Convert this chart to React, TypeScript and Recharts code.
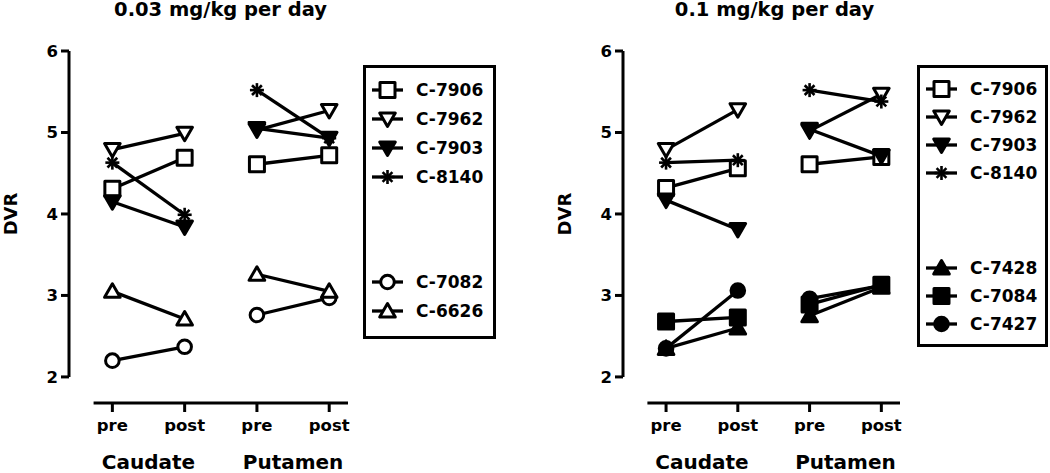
import React from 'react';
import { LineChart, Line, XAxis, YAxis, ReferenceLine, Legend } from 'recharts';

const FONT = '"DejaVu Sans", "Liberation Sans", sans-serif';

// shared axes
const PHASE_TICKS = ['pre', 'post', 'pre', 'post'];
const REGIONS = ['Caudate', 'Putamen'];
const Y_TICKS = [2, 3, 4, 5, 6];

// 0.03 mg/kg per day
const LOW_TITLE = '0.03 mg/kg per day';
const LOW_SUBJECTS = ['C-7906', 'C-7962', 'C-7903', 'C-8140', 'C-7082', 'C-6626'];
const LOW_CAUDATE_PRE = [4.31, 4.79, 4.15, 4.63, 2.2, 3.05];
const LOW_CAUDATE_POST = [4.69, 4.99, 3.84, 3.99, 2.37, 2.71];
const LOW_PUTAMEN_PRE = [4.61, 5.03, 5.05, 5.52, 2.76, 3.26];
const LOW_PUTAMEN_POST = [4.72, 5.27, 4.93, 4.93, 2.97, 3.05];

// 0.1 mg/kg per day
const HIGH_TITLE = '0.1 mg/kg per day';
const HIGH_SUBJECTS = ['C-7906', 'C-7962', 'C-7903', 'C-8140', 'C-7428', 'C-7084', 'C-7427'];
const HIGH_CAUDATE_PRE = [4.32, 4.79, 4.17, 4.63, 2.35, 2.68, 2.35];
const HIGH_CAUDATE_POST = [4.56, 5.28, 3.81, 4.66, 2.6, 2.73, 3.06];
const HIGH_PUTAMEN_PRE = [4.61, 5.02, 5.04, 5.52, 2.75, 2.89, 2.96];
const HIGH_PUTAMEN_POST = [4.7, 5.47, 4.71, 5.38, 3.1, 3.13, 3.12];

type Shape = 'square' | 'triDown' | 'triUp' | 'circle' | 'star';

const MARKERS: Record<string, { shape: Shape; filled: boolean }> = {
  'C-7906': { shape: 'square', filled: false },
  'C-7962': { shape: 'triDown', filled: false },
  'C-7903': { shape: 'triDown', filled: true },
  'C-8140': { shape: 'star', filled: true },
  'C-7082': { shape: 'circle', filled: false },
  'C-6626': { shape: 'triUp', filled: false },
  'C-7428': { shape: 'triUp', filled: true },
  'C-7084': { shape: 'square', filled: true },
  'C-7427': { shape: 'circle', filled: true },
};

const X_DOMAIN: [number, number] = [-0.6, 3.26];
const X_LINE_START = -0.26;
const Y_DOMAIN: [number, number] = [1.68, 6];
const LINE_W = 3.3;

function Marker({ cx, cy, shape, filled }: { cx: number; cy: number; shape: Shape; filled: boolean }) {
  const p = { stroke: '#000', strokeWidth: 3, fill: filled ? '#000' : '#fff', strokeLinejoin: 'round' as const };
  if (shape === 'square') return <rect x={cx - 7.5} y={cy - 7.5} width={15} height={15} {...p} />;
  if (shape === 'circle') return <circle cx={cx} cy={cy} r={6.8} {...p} />;
  if (shape === 'triDown')
    return <polygon points={`${cx - 7.8},${cy - 6} ${cx + 7.8},${cy - 6} ${cx},${cy + 7.5}`} {...p} />;
  if (shape === 'triUp')
    return <polygon points={`${cx - 7.8},${cy + 6} ${cx + 7.8},${cy + 6} ${cx},${cy - 7.5}`} {...p} />;
  const r = 7;
  const d = r * 0.7;
  return (
    <g stroke="#000" strokeWidth={2.6}>
      <line x1={cx} y1={cy - r} x2={cx} y2={cy + r} />
      <line x1={cx - r} y1={cy} x2={cx + r} y2={cy} />
      <line x1={cx - d} y1={cy - d} x2={cx + d} y2={cy + d} />
      <line x1={cx - d} y1={cy + d} x2={cx + d} y2={cy - d} />
    </g>
  );
}

function DvrLabel({ viewBox }: any) {
  const x = viewBox.x + viewBox.width - 59;
  const y = viewBox.y + 163;
  return (
    <text x={x} y={y} transform={`rotate(-90 ${x} ${y})`} textAnchor="middle" dominantBaseline="central"
      fontFamily={FONT} fontWeight="bold" fontSize={18} fill="#000">
      DVR
    </text>
  );
}

interface LegendLayout {
  gap: number;
  boxWidth: number;
  rowH: number;
  padTop: number;
  groupGap: number;
  padBottom: number;
}

function makeLegend(subjects: string[], lay: LegendLayout) {
  return () => (
    <div style={{
      marginLeft: lay.gap, marginTop: 14, width: lay.boxWidth, boxSizing: 'border-box',
      border: '3px solid #000', paddingTop: lay.padTop, paddingBottom: lay.padBottom, fontFamily: FONT,
    }}>
      {subjects.map((s, i) => (
        <div key={s} style={{ display: 'flex', alignItems: 'center', height: lay.rowH, marginTop: i === 4 ? lay.groupGap : 0 }}>
          <svg width={44} height={22} style={{ marginLeft: 6, flex: 'none' }}>
            <line x1={0} y1={11} x2={31} y2={11} stroke="#000" strokeWidth={LINE_W} />
            <Marker cx={15.5} cy={11} {...MARKERS[s]} />
          </svg>
          <span style={{ fontSize: 17, fontWeight: 'bold', color: '#000', whiteSpace: 'nowrap' }}>{s}</span>
        </div>
      ))}
    </div>
  );
}

interface PanelProps {
  title: string;
  subjects: string[];
  cPre: number[];
  cPost: number[];
  pPre: number[];
  pPost: number[];
  left: number;
  width: number;
  yAxisWidth: number;
  marginRight: number;
  legend: LegendLayout;
}

function Panel({ title, subjects, cPre, cPost, pPre, pPost, left, width, yAxisWidth, marginRight, legend }: PanelProps) {
  const tickStyle = { fill: '#000', fontSize: 16.5, fontWeight: 'bold', fontFamily: FONT };
  const dot = (s: string, region: string) => (p: any) => (
    <Marker key={`${s}-${region}-${p.index}`} cx={p.cx} cy={p.cy} {...MARKERS[s]} />
  );
  return (
    <div style={{ position: 'absolute', left, top: 0, width, height: 473 }}>
      <div style={{
        position: 'absolute', left: yAxisWidth + 24, top: 0, width: 255, textAlign: 'center',
        fontFamily: FONT, fontWeight: 'bold', fontSize: 19.5, lineHeight: '20px', whiteSpace: 'nowrap',
      }}>
        {title}
      </div>
      <LineChart width={width} height={473} margin={{ top: 51, right: marginRight, bottom: 0, left: 0 }}>
        <XAxis dataKey="x" type="number" domain={X_DOMAIN} ticks={[0, 1, 2, 3]} allowDataOverflow
          tickFormatter={(v: number) => PHASE_TICKS[v]} axisLine={false} height={30}
          tickLine={{ stroke: '#000', strokeWidth: 3 }} tickSize={9} tickMargin={7} tick={tickStyle} />
        <XAxis xAxisId="region" dataKey="x" type="number" domain={X_DOMAIN} ticks={[0.5, 2.5]} allowDataOverflow
          tickFormatter={(v: number) => REGIONS[Math.round((v - 0.5) / 2)]} axisLine={false} tickLine={false}
          height={40} tickSize={0} tickMargin={22} tick={{ ...tickStyle, fontSize: 20 }} />
        <YAxis type="number" domain={Y_DOMAIN} ticks={Y_TICKS} allowDataOverflow width={yAxisWidth}
          axisLine={false} tickLine={{ stroke: '#000', strokeWidth: 3 }} tickSize={8} tickMargin={3}
          tick={tickStyle} label={<DvrLabel />} />
        <ReferenceLine segment={[{ x: X_DOMAIN[0], y: 2 }, { x: X_DOMAIN[0], y: 6 }]}
          stroke="#000" strokeWidth={3} ifOverflow="visible" />
        <ReferenceLine segment={[{ x: X_LINE_START, y: Y_DOMAIN[0] }, { x: X_DOMAIN[1], y: Y_DOMAIN[0] }]}
          stroke="#000" strokeWidth={3} ifOverflow="visible" />
        {subjects.map((s, i) => (
          <Line key={`${s}-c`} data={[{ x: 0, y: cPre[i] }, { x: 1, y: cPost[i] }]} dataKey="y"
            stroke="#000" strokeWidth={LINE_W} isAnimationActive={false} dot={dot(s, 'c')} activeDot={false} legendType="none" />
        ))}
        {subjects.map((s, i) => (
          <Line key={`${s}-p`} data={[{ x: 2, y: pPre[i] }, { x: 3, y: pPost[i] }]} dataKey="y"
            stroke="#000" strokeWidth={LINE_W} isAnimationActive={false} dot={dot(s, 'p')} activeDot={false} legendType="none" />
        ))}
        <Legend layout="vertical" align="right" verticalAlign="top" width={legend.gap + legend.boxWidth}
          content={makeLegend(subjects, legend)} />
      </LineChart>
    </div>
  );
}

export default function App() {
  return (
    <div style={{ position: 'absolute', left: 0, top: 0, width: 1050, height: 473, background: '#fff' }}>
      <Panel title={LOW_TITLE} subjects={LOW_SUBJECTS}
        cPre={LOW_CAUDATE_PRE} cPost={LOW_CAUDATE_POST} pPre={LOW_PUTAMEN_PRE} pPost={LOW_PUTAMEN_POST}
        left={0} width={520} yAxisWidth={69} marginRight={24}
        legend={{ gap: 15, boxWidth: 133, rowH: 29, padTop: 7, groupGap: 76, padBottom: 11 }} />
      <Panel title={HIGH_TITLE} subjects={HIGH_SUBJECTS}
        cPre={HIGH_CAUDATE_PRE} cPost={HIGH_CAUDATE_POST} pPre={HIGH_PUTAMEN_PRE} pPost={HIGH_PUTAMEN_POST}
        left={540} width={510} yAxisWidth={83} marginRight={2}
        legend={{ gap: 17, boxWidth: 131, rowH: 28, padTop: 7, groupGap: 67, padBottom: 6 }} />
    </div>
  );
}
